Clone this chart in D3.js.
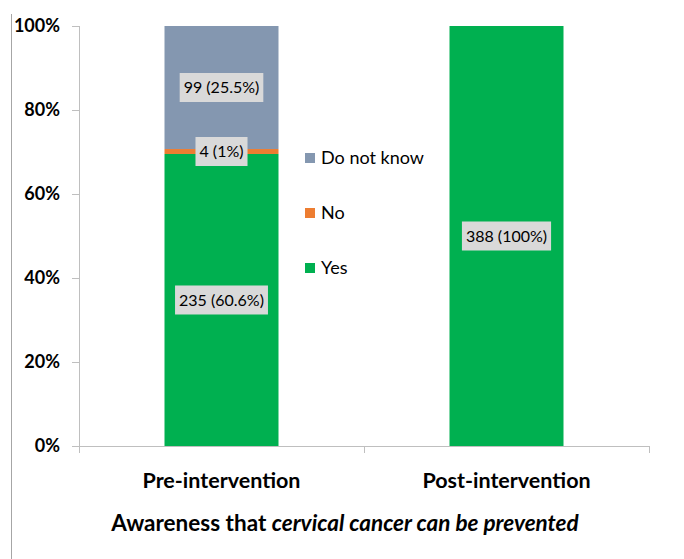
<!DOCTYPE html>
<html>
<head>
<meta charset="utf-8">
<script src="https://cdn.jsdelivr.net/npm/d3@7"></script>
<style>
  body { margin: 0; background: #fff; }
  svg { font-family: Lato, "Open Sans", sans-serif; }
</style>
</head>
<body>
<div id="chart"></div>
<script>
// data
var groups = ["Pre-intervention", "Post-intervention"];
var answers = ["Yes", "No", "Do not know"];
var yesCounts = [235, 388];
var noCounts = [4, 0];
var dontKnowCounts = [99, 0];
var barLabels = [
  ["235 (60.6%)", "4 (1%)", "99 (25.5%)"],
  ["388 (100%)", null, null]
];
var yTicks = [0, 0.2, 0.4, 0.6, 0.8, 1];
var colors = {"Yes": "#00b050", "No": "#ed7d31", "Do not know": "#8497b0"};

var width = 684, height = 559;
var margin = {top: 26, right: 35, bottom: 113, left: 79};

var svg = d3.select("#chart")
  .append("svg")
  .attr("width", width)
  .attr("height", height);

// outer frame line on the left
svg.append("line")
  .attr("x1", 11.5).attr("x2", 11.5)
  .attr("y1", 14).attr("y2", height)
  .attr("stroke", "#a6a6a6").attr("stroke-width", 1);

// build the table and stack it as shares of each group
var table = groups.map(function(g, i) {
  var total = yesCounts[i] + noCounts[i] + dontKnowCounts[i];
  return {group: g, i: i,
    "Yes": yesCounts[i] / total,
    "No": noCounts[i] / total,
    "Do not know": dontKnowCounts[i] / total};
});
var series = d3.stack().keys(answers)(table);

var x = d3.scaleBand()
  .domain(groups)
  .range([margin.left, width - margin.right])
  .paddingInner(0.6)
  .paddingOuter(0.3);

var y = d3.scaleLinear()
  .domain([0, 1])
  .range([height - margin.bottom, margin.top]);

// y axis
var yAxis = svg.append("g")
  .attr("transform", "translate(" + margin.left + ",0)")
  .call(d3.axisLeft(y).tickValues(yTicks).tickFormat(d3.format(".0%")).tickSize(7).tickPadding(12));
yAxis.selectAll("line, path").attr("stroke", "#bfbfbf");
yAxis.select(".domain").attr("d", "M0.5," + (margin.top) + "V" + (height - margin.bottom));
yAxis.selectAll("text")
  .attr("font-size", 18).attr("font-weight", "bold").attr("fill", "#000")
  .attr("font-family", "Lato, sans-serif");

// x axis line with separator ticks between the groups
var xAxisG = svg.append("g");
var x0 = margin.left, x1 = width - margin.right, yb = y(0);
xAxisG.append("line")
  .attr("x1", x0).attr("x2", x1)
  .attr("y1", yb + 0.5).attr("y2", yb + 0.5)
  .attr("stroke", "#bfbfbf");
var seps = [x0, (x(groups[0]) + x.bandwidth() + x(groups[1])) / 2, x1];
xAxisG.selectAll("line.sep")
  .data(seps)
  .join("line")
  .attr("class", "sep")
  .attr("x1", d => Math.round(d) + 0.5).attr("x2", d => Math.round(d) + 0.5)
  .attr("y1", yb).attr("y2", yb + 7)
  .attr("stroke", "#bfbfbf");
xAxisG.selectAll("text")
  .data(groups)
  .join("text")
  .attr("x", d => x(d) + x.bandwidth() / 2)
  .attr("y", yb + 42)
  .attr("text-anchor", "middle")
  .attr("font-size", 21.5)
  .attr("font-weight", "bold")
  .text(d => d);

// bars
svg.append("g")
  .selectAll("g")
  .data(series)
  .join("g")
  .attr("fill", d => colors[d.key])
  .selectAll("rect")
  .data(d => d)
  .join("rect")
  .attr("x", d => x(d.data.group))
  .attr("y", d => y(d[1]))
  .attr("height", d => y(d[0]) - y(d[1]))
  .attr("width", x.bandwidth());

// data labels in grey boxes
var labelData = [];
series.forEach(function(s, k) {
  s.forEach(function(d) {
    var txt = barLabels[d.data.i][k];
    if (txt) labelData.push({txt: txt, cx: x(d.data.group) + x.bandwidth() / 2, cy: y((d[0] + d[1]) / 2)});
  });
});
var lab = svg.append("g")
  .selectAll("g")
  .data(labelData)
  .join("g")
  .attr("transform", d => "translate(" + d.cx + "," + d.cy + ")");
lab.append("rect").attr("fill", "#d9d9d9");
lab.append("text")
  .attr("text-anchor", "middle")
  .attr("dy", "0.35em")
  .attr("font-size", 16)
  .attr("fill", "#000")
  .text(d => d.txt);
lab.each(function() {
  var g = d3.select(this);
  var bb = g.select("text").node().getBBox();
  g.select("rect")
    .attr("x", -bb.width / 2 - 4).attr("y", -14.5)
    .attr("width", bb.width + 8).attr("height", 29);
});

// legend, top entry first
var legend = svg.append("g")
  .attr("transform", "translate(305,158)")
  .selectAll("g")
  .data(answers.slice().reverse())
  .join("g")
  .attr("transform", (d, i) => "translate(0," + i * 55 + ")");
legend.append("rect")
  .attr("y", -5).attr("width", 10).attr("height", 10)
  .attr("fill", d => colors[d]);
legend.append("text")
  .attr("x", 16).attr("dy", "0.35em")
  .attr("font-size", 18)
  .text(d => d);

// x axis title, partly italic
var title = svg.append("text")
  .attr("x", 345)
  .attr("y", 531)
  .attr("text-anchor", "middle")
  .attr("font-size", 22.5)
  .attr("font-weight", "bold");
title.append("tspan").text("Awareness that ");
title.append("tspan").attr("font-style", "italic").text("cervical cancer can be prevented");
</script>
</body>
</html>
